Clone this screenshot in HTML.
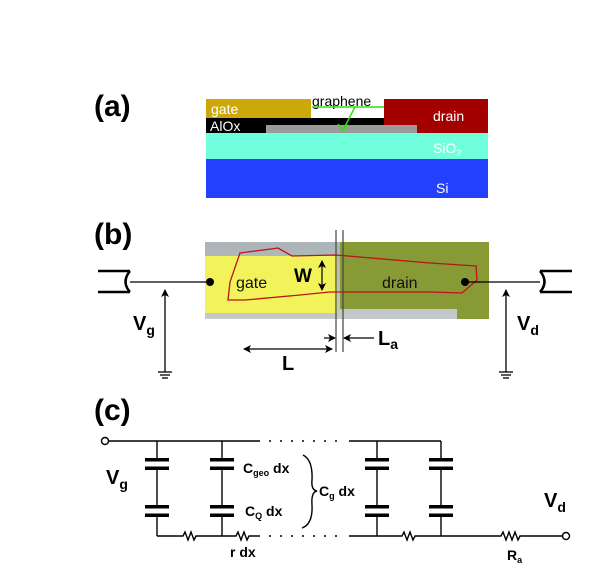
<!DOCTYPE html>
<html><head><style>
body{margin:0;background:#fff;width:611px;height:568px;overflow:hidden}
svg{display:block}
text{font-family:"Liberation Sans",Arial,sans-serif}
</style></head><body>
<svg width="611" height="568" viewBox="0 0 611 568">
<defs>
<marker id="ah" markerWidth="8" markerHeight="8" refX="7" refY="4" orient="auto-start-reverse" markerUnits="userSpaceOnUse"><path d="M0,0 L8,4 L0,8 L2,4z" fill="#000"/></marker>
<linearGradient id="gy" x1="0" y1="0" x2="0" y2="1"><stop offset="0" stop-color="#aab3b6"/><stop offset="1" stop-color="#c4cacb"/></linearGradient>
</defs>
<!-- (a) -->
<text x="94" y="116" font-size="30" font-weight="bold">(a)</text>
<rect x="206" y="99" width="105" height="19" fill="#cca80a"/>
<rect x="206" y="118" width="178" height="15" fill="#000"/>
<rect x="384" y="99" width="104" height="34" fill="#a30000"/>
<rect x="266" y="125" width="151" height="8" fill="#9a9a9a"/>
<rect x="206" y="133" width="282" height="26" fill="#70ffdc"/>
<rect x="206" y="159" width="282" height="39" fill="#2440ff"/>
<text x="211" y="114" font-size="14" fill="#fff">gate</text>
<text x="210" y="131" font-size="14" fill="#fff">AlOx</text>
<text x="433" y="121" font-size="14" fill="#fff">drain</text>
<text x="433" y="153" font-size="14" fill="#fff">SiO<tspan font-size="9" dy="3">2</tspan></text>
<text x="436" y="193" font-size="14" fill="#fff">Si</text>
<text x="312" y="106" font-size="14">graphene</text>
<line x1="312" y1="107" x2="384" y2="107" stroke="#33dd11" stroke-width="1.5"/>
<line x1="355" y1="107" x2="343" y2="130" stroke="#33dd11" stroke-width="1.5"/>
<path d="M338,124 L343,131 L347,124" fill="none" stroke="#33dd11" stroke-width="1.5"/>
<!-- (b) -->
<text x="94" y="244" font-size="30" font-weight="bold">(b)</text>
<rect x="205" y="242" width="284" height="77" fill="url(#gy)"/>
<path d="M205,256 L337,256 L337,313 L205,313z" fill="#f2f25a"/>
<path d="M340,242 L489,242 L489,319 L457,319 L457,309 L340,309z" fill="#879a35"/>
<path d="M240,253 L278,248 L292,256 L336,255 L430,263 L476,266 L477,280 L462,293 L430,292 L330,292 L300,295 L245,300 L228,300 L230,282z" fill="none" stroke="#b8161b" stroke-width="1.3"/>
<line x1="336" y1="230" x2="336" y2="352" stroke="#444" stroke-width="1.2"/>
<line x1="343" y1="230" x2="343" y2="352" stroke="#444" stroke-width="1.2"/>
<text x="236" y="288" font-size="16" fill="#111">gate</text>
<text x="382" y="288" font-size="16" fill="#111">drain</text>
<text x="294" y="282" font-size="19" font-weight="bold">W</text>
<line x1="322" y1="261" x2="322" y2="290" stroke="#000" stroke-width="1.2" marker-start="url(#ah)" marker-end="url(#ah)"/>
<circle cx="210" cy="282" r="4" fill="#000"/>
<circle cx="465" cy="282" r="4" fill="#000"/>
<line x1="130" y1="282" x2="210" y2="282" stroke="#000" stroke-width="1.3"/>
<line x1="465" y1="282" x2="540" y2="282" stroke="#000" stroke-width="1.3"/>
<g stroke="#000" stroke-width="2.5" fill="none">
<path d="M98,271 L130,271 M98,292 L130,292 M130,271 Q121,282 130,292"/>
<path d="M572,271 L540,271 M572,292 L540,292 M540,271 Q549,282 540,292"/>
</g>
<line x1="165" y1="372" x2="165" y2="290" stroke="#000" stroke-width="1.3" marker-end="url(#ah)"/>
<line x1="506" y1="372" x2="506" y2="290" stroke="#000" stroke-width="1.3" marker-end="url(#ah)"/>
<g stroke="#000" stroke-width="1.3">
<line x1="158" y1="372" x2="172" y2="372"/><line x1="160" y1="375" x2="170" y2="375"/><line x1="162" y1="378" x2="168" y2="378"/>
<line x1="499" y1="372" x2="513" y2="372"/><line x1="501" y1="375" x2="511" y2="375"/><line x1="503" y1="378" x2="509" y2="378"/>
</g>
<text x="133" y="330" font-size="20" font-weight="bold">V<tspan font-size="14" dy="5">g</tspan></text>
<text x="517" y="330" font-size="20" font-weight="bold">V<tspan font-size="14" dy="5">d</tspan></text>
<line x1="244" y1="349" x2="332" y2="349" stroke="#000" stroke-width="1.2" marker-start="url(#ah)" marker-end="url(#ah)"/>
<text x="282" y="370" font-size="20" font-weight="bold">L</text>
<line x1="324" y1="338" x2="335" y2="338" stroke="#000" stroke-width="1.2" marker-end="url(#ah)"/>
<line x1="374" y1="338" x2="344" y2="338" stroke="#000" stroke-width="1.2" marker-end="url(#ah)"/>
<text x="378" y="345" font-size="20" font-weight="bold">L<tspan font-size="14" dy="4">a</tspan></text>
<!-- (c) -->
<text x="94" y="420" font-size="30" font-weight="bold">(c)</text>
<g stroke="#000" stroke-width="1.4" fill="none">
<line x1="108" y1="441" x2="258" y2="441"/>
<line x1="349" y1="441" x2="441" y2="441"/>
<path d="M157,536 L183,536 l2,-4 l3,8 l3,-8 l3,8 l2,-4 L222,536 L236,536 l2,-4 l3,8 l3,-8 l3,8 l2,-4 L258,536"/>
<path d="M349,536 L402,536 l2,-4 l3,8 l3,-8 l3,8 l2,-4 L501,536 l2,-4 l3,8 l3,-8 l3,8 l3,-8 l3,8 l2,-4 L563,536"/>
<line x1="258" y1="441" x2="345" y2="441" stroke-dasharray="2,9"/>
<line x1="258" y1="536" x2="345" y2="536" stroke-dasharray="2,9"/>
<circle cx="105" cy="441" r="3.5" fill="#fff"/>
<circle cx="566" cy="536" r="3.5" fill="#fff"/>
<path d="M303,455 Q313,460 312,480 Q311,490 317,491 Q311,492 312,505 Q313,524 302,528"/>
</g>
<g stroke="#000" stroke-width="1.4">
<line x1="157" x2="157" y1="441" y2="536"/>
<line x1="222" x2="222" y1="441" y2="536"/>
<line x1="377" x2="377" y1="441" y2="536"/>
<line x1="441" x2="441" y1="441" y2="536"/>
</g>
<g fill="#fff"><rect x="145" y="461" width="24" height="6"/><rect x="210" y="461" width="24" height="6"/><rect x="365" y="461" width="24" height="6"/><rect x="429" y="461" width="24" height="6"/>
<rect x="145" y="508" width="24" height="6"/><rect x="210" y="508" width="24" height="6"/><rect x="365" y="508" width="24" height="6"/><rect x="429" y="508" width="24" height="6"/></g>
<g fill="#000">
<rect x="145" y="458" width="24" height="3.5"/><rect x="145" y="466.5" width="24" height="3.5"/>
<rect x="210" y="458" width="24" height="3.5"/><rect x="210" y="466.5" width="24" height="3.5"/>
<rect x="365" y="458" width="24" height="3.5"/><rect x="365" y="466.5" width="24" height="3.5"/>
<rect x="429" y="458" width="24" height="3.5"/><rect x="429" y="466.5" width="24" height="3.5"/>
<rect x="145" y="505" width="24" height="3.5"/><rect x="145" y="513.5" width="24" height="3.5"/>
<rect x="210" y="505" width="24" height="3.5"/><rect x="210" y="513.5" width="24" height="3.5"/>
<rect x="365" y="505" width="24" height="3.5"/><rect x="365" y="513.5" width="24" height="3.5"/>
<rect x="429" y="505" width="24" height="3.5"/><rect x="429" y="513.5" width="24" height="3.5"/>
</g>
<text x="106" y="484" font-size="20" font-weight="bold">V<tspan font-size="14" dy="5">g</tspan></text>
<text x="544" y="507" font-size="20" font-weight="bold">V<tspan font-size="14" dy="5">d</tspan></text>
<text x="243" y="473" font-size="14" font-weight="bold">C<tspan font-size="9" dy="3">geo</tspan><tspan dy="-3"> dx</tspan></text>
<text x="245" y="516" font-size="14" font-weight="bold">C<tspan font-size="9" dy="3">Q</tspan><tspan dy="-3"> dx</tspan></text>
<text x="319" y="496" font-size="14" font-weight="bold">C<tspan font-size="9" dy="3">g</tspan><tspan dy="-3"> dx</tspan></text>
<text x="230" y="557" font-size="14" font-weight="bold">r dx</text>
<text x="507" y="560" font-size="14" font-weight="bold">R<tspan font-size="9" dy="3">a</tspan></text>
</svg>
</body></html>
